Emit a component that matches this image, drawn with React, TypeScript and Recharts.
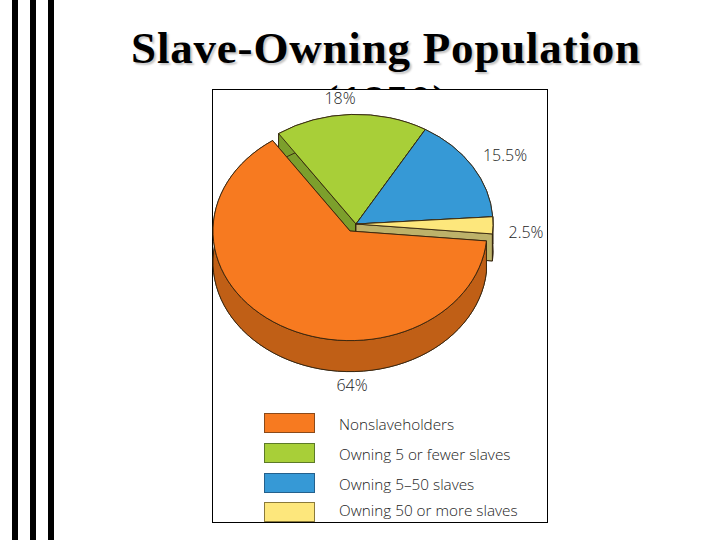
import { Pie, PieChart } from "recharts";

const CATEGORIES = [
  "Nonslaveholders",
  "Owning 5 or fewer slaves",
  "Owning 5–50 slaves",
  "Owning 50 or more slaves",
];
const SHARES = [64, 18, 15.5, 2.5];
const SHARE_LABELS = ["64%", "18%", "15.5%", "2.5%"];
const FACE_COLORS = ["#f77a20", "#a8cf38", "#3699d6", "#fde77c"];
const WALL_COLORS = ["#c05f16", "#7c9f2c", "#2c7cae", "#bdb26a"];
const SWATCH_EDGES = ["#8a4a1a", "#5c7a28", "#24608c", "#8a7a3a"];

// pie is drawn as a tilted disc: orange last so it sits over the other walls
const DRAW_ORDER = [1, 2, 3, 0];
const SQUASH = 0.8;
const LIFT = { dx: 6, dy: -7 };
const FONT = "'Open Sans', 'Noto Sans', sans-serif";
const LABEL_SPOTS = [
  { x: 352, y: 387 },
  { x: 340, y: 100 },
  { x: 505, y: 157 },
  { x: 526, y: 234 },
];

const data = DRAW_ORDER.map((i) => ({
  name: CATEGORIES[i],
  value: SHARES[i],
  idx: i,
}));

const RAD = Math.PI / 180;

function TiltedSlice(props: any) {
  const { cx, cy, outerRadius, startAngle, endAngle, payload } = props;
  const idx: number = payload.idx;
  const off = idx === 0 ? { dx: 0, dy: 0 } : LIFT;
  const depth = idx === 0 ? 31 : 27;
  const x0 = cx + off.dx;
  const y0 = cy + off.dy;
  const rx = outerRadius;
  const ry = outerRadius * SQUASH;
  const px = (a: number) => x0 + rx * Math.cos(a * RAD);
  const py = (a: number, shift = 0) => y0 - ry * Math.sin(a * RAD) + shift;
  const large = Math.abs(startAngle - endAngle) > 180 ? 1 : 0;
  const sector = (shift: number) =>
    `M${x0},${y0 + shift}L${px(startAngle)},${py(startAngle, shift)}` +
    `A${rx},${ry} 0 ${large} 1 ${px(endAngle)},${py(endAngle, shift)}Z`;
  const band =
    `M${px(startAngle)},${py(startAngle)}` +
    `A${rx},${ry} 0 ${large} 1 ${px(endAngle)},${py(endAngle)}` +
    `L${px(endAngle)},${py(endAngle, depth)}` +
    `A${rx},${ry} 0 ${large} 0 ${px(startAngle)},${py(startAngle, depth)}Z`;
  const edge = (a: number) =>
    `M${x0},${y0}L${px(a)},${py(a)}L${px(a)},${py(a, depth)}L${x0},${y0 + depth}Z`;
  const line = { stroke: "#33240f", strokeWidth: 0.9, strokeLinejoin: "round" as const };
  return (
    <g>
      <path d={sector(depth)} fill={WALL_COLORS[idx]} {...line} />
      <path d={edge(startAngle)} fill={WALL_COLORS[idx]} {...line} />
      <path d={edge(endAngle)} fill={WALL_COLORS[idx]} {...line} />
      <path d={band} fill={WALL_COLORS[idx]} {...line} />
      <path d={sector(0)} fill={FACE_COLORS[idx]} {...line} />
    </g>
  );
}

function SliceLabel(props: any) {
  const i: number = props.payload?.idx ?? props.idx;
  const spot = LABEL_SPOTS[i];
  return (
    <text
      x={spot.x}
      y={spot.y}
      textAnchor="middle"
      dominantBaseline="middle"
      fontFamily={FONT}
      fontSize={16}
      fontWeight={300}
      fill="#1c1c1c"
    >
      {SHARE_LABELS[i]}
    </text>
  );
}

const bar = (left: number, width: number) => (
  <div
    key={left}
    style={{ position: "absolute", left, top: 0, width, height: 540, background: "#000" }}
  />
);

export default function App() {
  return (
    <div
      style={{
        position: "fixed",
        left: 0,
        top: 0,
        width: 720,
        height: 540,
        background: "#fff",
        overflow: "hidden",
      }}
    >
      {bar(12, 6)}
      {bar(30, 6)}
      {bar(48, 6)}
      <div
        style={{
          position: "absolute",
          left: 60,
          top: 22,
          width: 652,
          textAlign: "center",
          fontFamily: "'Liberation Serif', serif",
          fontWeight: 700,
          fontSize: 45,
          letterSpacing: 0.8,
          lineHeight: "53px",
          color: "#000",
          textShadow: "2px 2px 2px #c4c4c4",
        }}
      >
        Slave-Owning Population
        <br />
        (1850)
      </div>
      <div
        style={{
          position: "absolute",
          left: 212,
          top: 89,
          width: 334,
          height: 432,
          background: "#fff",
          border: "1px solid #000",
        }}
      />
      <div style={{ position: "absolute", left: 0, top: 0 }}>
        <PieChart width={720} height={540} margin={{ top: 0, right: 0, bottom: 0, left: 0 }}>
          <Pie
            data={data}
            dataKey="value"
            nameKey="name"
            cx={350}
            cy={231}
            outerRadius={137}
            startAngle={124.4}
            endAngle={-235.6}
            paddingAngle={0}
            shape={TiltedSlice}
            label={SliceLabel}
            labelLine={false}
            isAnimationActive={false}
          />
        </PieChart>
      </div>
      {CATEGORIES.map((c, i) => {
        const top = [413, 443, 473, 502][i];
        return (
          <div key={c}>
            <div
              style={{
                position: "absolute",
                left: 264,
                top,
                width: 49,
                height: 18,
                background: FACE_COLORS[i],
                border: `1px solid ${SWATCH_EDGES[i]}`,
              }}
            />
            <div
              style={{
                position: "absolute",
                left: 339,
                top: [414, 444, 474, 500][i],
                fontFamily: FONT,
                fontSize: 15.3,
                fontWeight: 300,
                lineHeight: "20px",
                color: "#1c1c1c",
                whiteSpace: "nowrap",
              }}
            >
              {c}
            </div>
          </div>
        );
      })}
    </div>
  );
}
